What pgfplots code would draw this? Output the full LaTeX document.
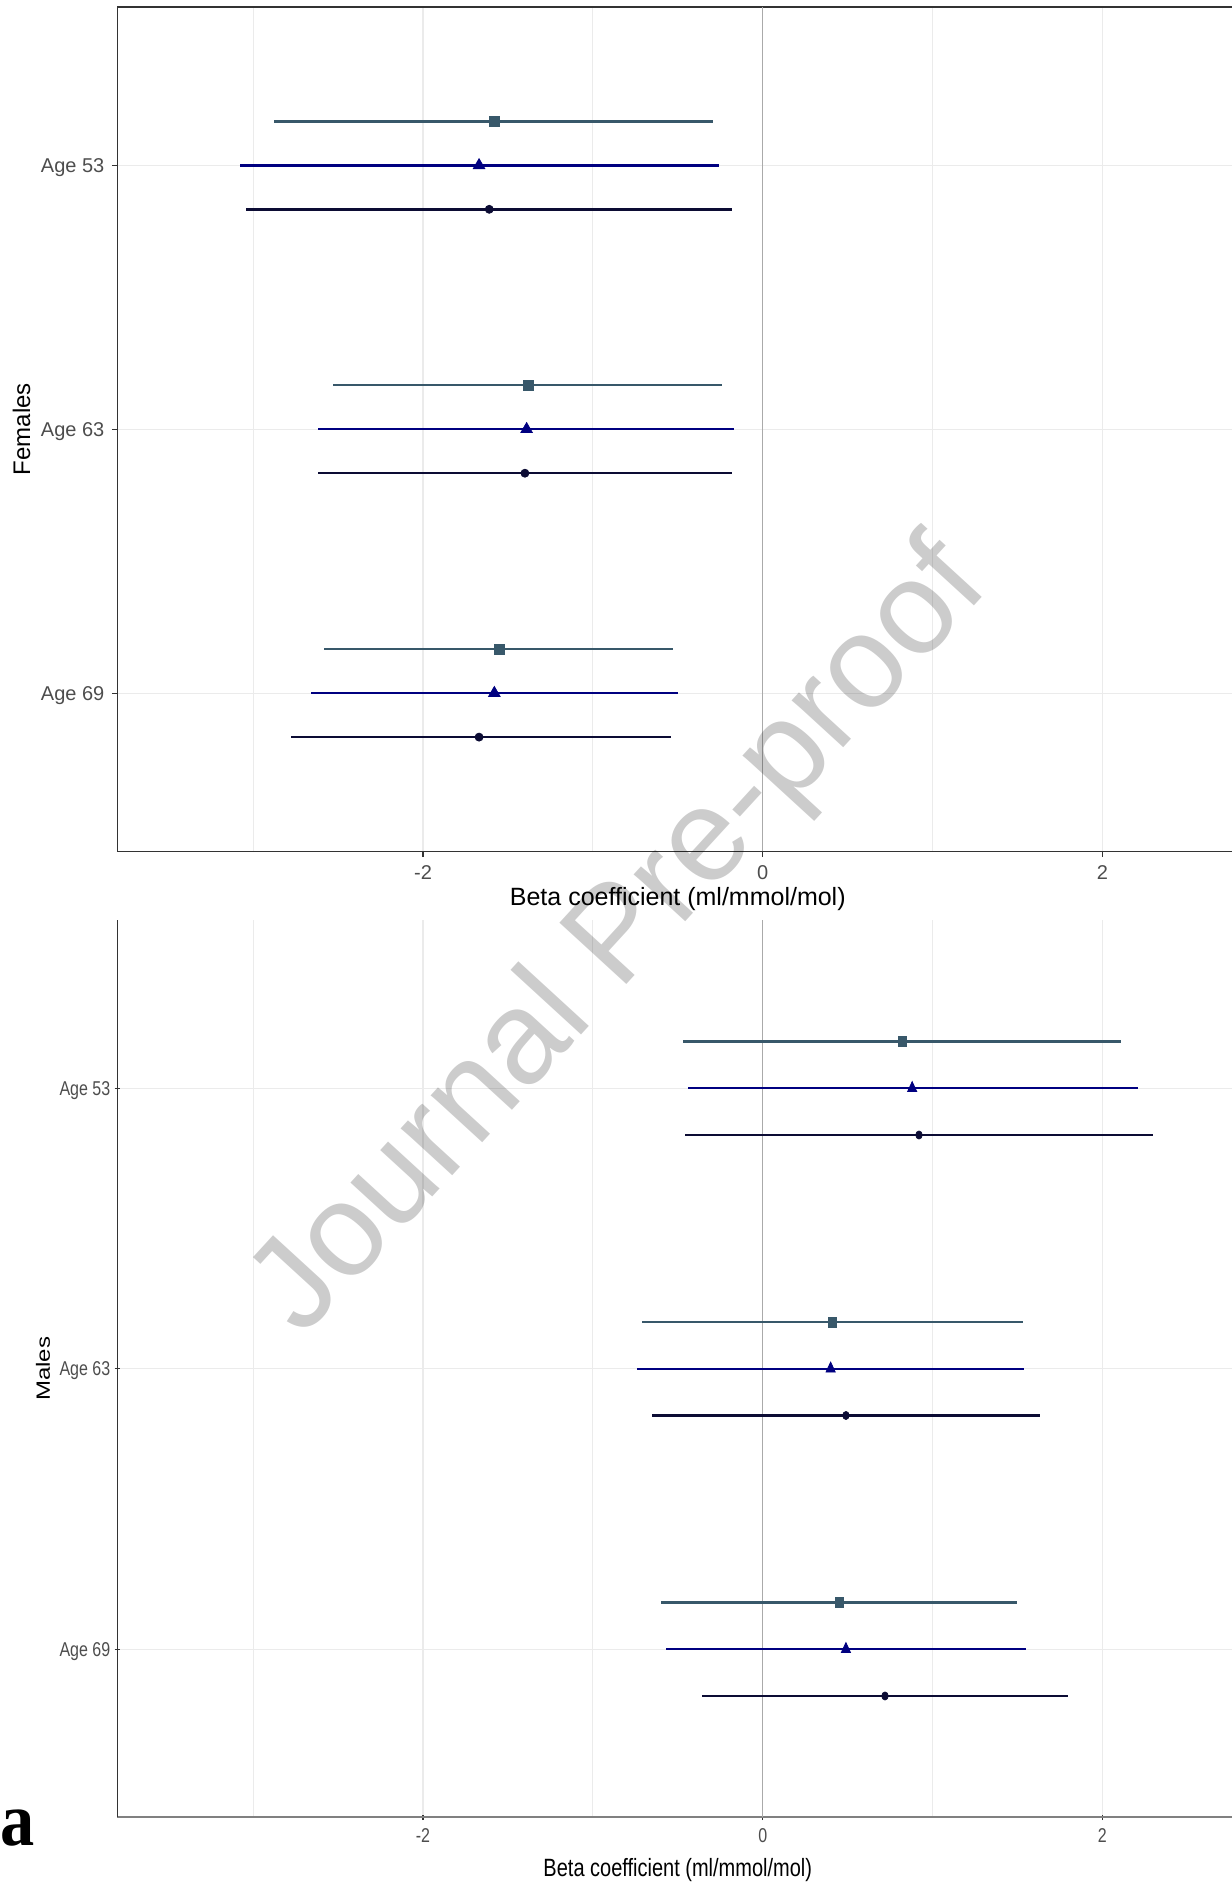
\documentclass[border=0pt]{standalone}
\usepackage{fontspec}
\setmainfont{Liberation Sans}
\newfontfamily\serifface{Liberation Serif}
\usepackage{pgfplots}
\pgfplotsset{compat=1.18}
\usepackage{pgfplotstable}

\definecolor{cSq}{RGB}{56,88,106}
\definecolor{cTr}{RGB}{0,0,128}
\definecolor{cCi}{RGB}{12,12,52}
\definecolor{gridc}{RGB}{235,235,235}
\definecolor{zeroc}{RGB}{170,170,170}
\definecolor{tickc}{RGB}{77,77,77}
\definecolor{axc}{RGB}{51,51,51}
\definecolor{wm}{RGB}{204,204,204}

% columns: y, square (lo, est, hi), triangle (lo, est, hi), circle (lo, est, hi)
\pgfplotstableread{
y  slo   sest  shi   tlo   test  thi   clo   cest  chi
3 -2.88 -1.58 -0.29 -3.08 -1.67 -0.26 -3.04 -1.61 -0.18
2 -2.53 -1.38 -0.24 -2.62 -1.39 -0.17 -2.62 -1.40 -0.18
1 -2.58 -1.55 -0.53 -2.66 -1.58 -0.50 -2.78 -1.67 -0.54
}\females
\pgfplotstableread{
y  slo   sest  shi   tlo   test  thi   clo   cest  chi
3 -0.47  0.82  2.11 -0.44  0.88  2.21 -0.46  0.92  2.30
2 -0.71  0.41  1.53 -0.74  0.40  1.54 -0.65  0.49  1.63
1 -0.60  0.45  1.50 -0.57  0.49  1.55 -0.36  0.72  1.80
}\males

\pgfplotsset{
  forest/.style={
    scale only axis, anchor=south west,
    width=560.5pt,
    xmin=-3.8, xmax=2.8, ymin=0.4, ymax=3.6,
    xtick={-2,0,2}, xticklabels={-2,0,2},
    minor xtick={-3,-1,1},
    ytick={1,2,3}, yticklabels={Age 69,Age 63,Age 53},
    xmajorgrids, xminorgrids, ymajorgrids,
    grid style={gridc, line width=0.55pt},
    minor grid style={gridc, line width=0.55pt},
    tick align=outside, xtick pos=bottom, ytick pos=left,
    major tick length=2.75pt, minor tick length=0pt,
    tick style={axc, line width=0.55pt},
    ticklabel style={font=\fontsize{10}{12}\selectfont, text=tickc},
    xticklabel style={anchor=north, inner sep=0pt},
    yticklabel style={anchor=base east, inner sep=0pt},
    label style={font=\fontsize{12.5}{15}\selectfont, text=black},
    xlabel={Beta coefficient (ml/mmol/mol)},
  },
  ebar/.style={only marks, mark options={solid, fill=#1, draw=#1},
    error bars/x dir=both, error bars/x explicit, error bars/error mark=none,
    error bars/error bar style={line width=1.2pt, #1}},
}

\begin{document}
\begin{tikzpicture}
\useasboundingbox (0,0) rectangle (615.5pt,941.5pt);

% ---------- Females ----------
\begin{axis}[forest,
  at={(58.64pt,515.75pt)}, height=422.25pt,
  axis line style={axc, line width=0.6pt},
  xticklabel style={yshift=-4pt},
  yticklabel style={xshift=-3.5pt, yshift=-3.6pt},
  xlabel style={at={(axis description cs:0.5,-0.0426)}, anchor=north, inner sep=0pt},
  ylabel={Females},
  ylabel style={at={(axis description cs:-0.0853,0.5)}, anchor=center, inner sep=0pt, font=\fontsize{12}{14}\selectfont},
]
\addplot[zeroc, line width=0.6pt] coordinates {(0,0.4) (0,3.6)};
\addplot[ebar=cSq, mark=square*, mark size=2.5pt] table[x=sest, y expr=\thisrow{y}+1/6,
  x error plus expr=\thisrow{shi}-\thisrow{sest}, x error minus expr=\thisrow{sest}-\thisrow{slo}] {\females};
\addplot[ebar=cTr, mark=triangle*, mark size=3.3pt] table[x=test, y expr=\thisrow{y},
  x error plus expr=\thisrow{thi}-\thisrow{test}, x error minus expr=\thisrow{test}-\thisrow{tlo}] {\females};
\addplot[ebar=cCi, mark=*, mark size=2pt] table[x=cest, y expr=\thisrow{y}-1/6,
  x error plus expr=\thisrow{chi}-\thisrow{cest}, x error minus expr=\thisrow{cest}-\thisrow{clo}] {\females};
\end{axis}

% ---------- Males ----------
\begin{axis}[forest,
  at={(58.64pt,32.75pt)}, height=448.75pt,
  axis x line=bottom, axis y line=left,
  x axis line style={-, draw={rgb,255:red,128;green,128;blue,128}, line width=1pt},
  y axis line style={-, draw=axc, line width=0.6pt},
  xticklabel style={yshift=-4pt, xscale=0.8},
  yticklabel style={xshift=-2pt, yshift=-3.6pt, xscale=0.8},
  xlabel style={at={(axis description cs:0.5,-0.0446)}, anchor=north, inner sep=0pt, xscale=0.8},
  ylabel={Males},
  ylabel style={at={(axis description cs:-0.0662,0.5)}, anchor=center, inner sep=0pt, yscale=0.8, font=\fontsize{12}{14}\selectfont},
]
\addplot[zeroc, line width=0.6pt] coordinates {(0,0.4) (0,3.6)};
\addplot[ebar=cSq, mark=square*, mark size=2.5pt, mark options={solid, fill=cSq, draw=cSq, xscale=0.8}] table[x=sest, y expr=\thisrow{y}+1/6,
  x error plus expr=\thisrow{shi}-\thisrow{sest}, x error minus expr=\thisrow{sest}-\thisrow{slo}] {\males};
\addplot[ebar=cTr, mark=triangle*, mark size=3.3pt, mark options={solid, fill=cTr, draw=cTr, xscale=0.8}] table[x=test, y expr=\thisrow{y},
  x error plus expr=\thisrow{thi}-\thisrow{test}, x error minus expr=\thisrow{test}-\thisrow{tlo}] {\males};
\addplot[ebar=cCi, mark=*, mark size=2pt, mark options={solid, fill=cCi, draw=cCi, xscale=0.8}] table[x=cest, y expr=\thisrow{y}-1/6,
  x error plus expr=\thisrow{chi}-\thisrow{cest}, x error minus expr=\thisrow{cest}-\thisrow{clo}] {\males};
\end{axis}

% watermark
\begin{scope}[blend mode=multiply]
\node[rotate=47.5, anchor=center, inner sep=0pt, text=wm, font=\fontsize{66}{68}\selectfont] at (311pt,471.5pt) {Journal Pre-proof};
\end{scope}

% panel letter
\node[anchor=base west, inner sep=0pt, xscale=0.9, font=\serifface\bfseries\fontsize{38}{40}\selectfont] at (0pt,18.5pt) {a};
\end{tikzpicture}
\end{document}
